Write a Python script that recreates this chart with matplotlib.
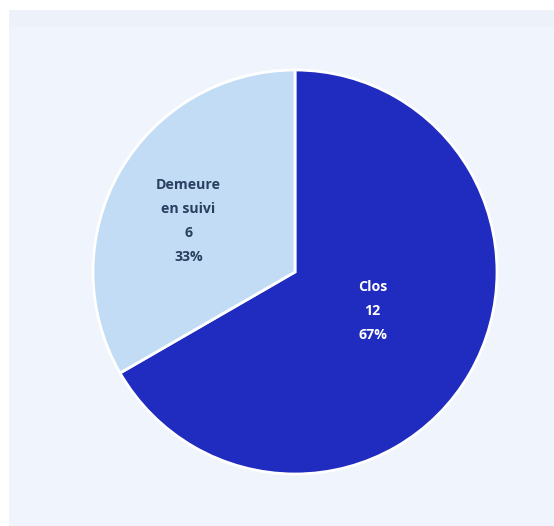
import matplotlib
matplotlib.use("Agg")
import matplotlib.pyplot as plt
from matplotlib.patches import Rectangle
import numpy as np

labels = ["Clos", "Demeure\nen suivi"]
values = [12, 6]
colors = ["#1f2cbf", "#c3dcf5"]
text_colors = ["#ffffff", "#2a3f5f"]
text_radius = [0.43, 0.585]
text_angle_shift = [3.4, 4.5]

W, H = 554, 526
fig = plt.figure(figsize=(W / 100, H / 100), dpi=100)
fig.patch.set_facecolor("white")
# panel background
fig.add_artist(Rectangle((9 / W, 0), 1 - 9 / W, 1 - 10 / H, transform=fig.transFigure,
                         facecolor="#f0f4fc", edgecolor="none", zorder=0))
fig.add_artist(Rectangle((9 / W, 1 - 27 / H), 1 - 9 / W, 17 / H, transform=fig.transFigure,
                         facecolor="#edf1f9", edgecolor="none", zorder=0))

cx, cy, r = 295, 272, 202
ax = fig.add_axes([(cx - r) / W, (H - cy - r) / H, 2 * r / W, 2 * r / H])
ax.set_facecolor("none")
wedges, _ = ax.pie(values, colors=colors, startangle=90, counterclock=False,
                   radius=1.0, wedgeprops=dict(edgecolor="white", linewidth=2))
ax.set_xlim(-1, 1)
ax.set_ylim(-1, 1)
ax.set_aspect("equal")
ax.axis("off")

total = sum(values)
for w, lab, v, tc, tr, sh in zip(wedges, labels, values, text_colors, text_radius, text_angle_shift):
    mid = np.deg2rad((w.theta1 + w.theta2) / 2 + sh)
    x, y = tr * np.cos(mid), tr * np.sin(mid)
    pct = round(100 * v / total)
    ax.text(x, y, f"{lab}\n{v}\n{pct}%", ha="center", va="center", color=tc,
            fontsize=10.2, fontweight="bold", family=["Open Sans", "DejaVu Sans"],
            linespacing=1.9)

fig.savefig("out.png", dpi=100, facecolor=fig.get_facecolor())
